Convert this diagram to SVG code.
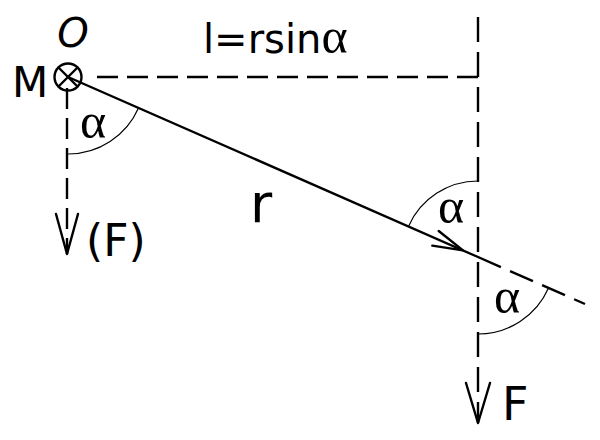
<svg xmlns="http://www.w3.org/2000/svg" width="600" height="440" viewBox="0 0 600 440">
<style>
.bg{fill:#fff}
.solid{stroke:#000;stroke-width:2.4;fill:none;stroke-linecap:round;stroke-linejoin:round}
.dash{stroke:#000;stroke-width:2.4;fill:none;stroke-dasharray:21 9}
.dashv{stroke:#000;stroke-width:2.4;fill:none;stroke-dasharray:25 10}
.arc{stroke:#000;stroke-width:1.2;fill:none}
.lbl{font-family:"DejaVu Sans",sans-serif;fill:#000}
.greek{font-family:"Liberation Serif",serif;font-size:50px;fill:#000}
</style>
<rect class="bg" x="0" y="0" width="600" height="440"/>
<g id="connectors">
  <path class="dash" d="M97 77 H478"/>
  <path class="dash" d="M67 88 V254"/>
  <path class="solid" d="M56 214 L67 254 L78 214"/>
  <path class="dashv" d="M478 17 V423"/>
  <path class="solid" d="M466 383 L478 423 L490 383"/>
  <path class="solid" d="M68 77 L478 257"/>
  <path class="dashv" d="M478 257 L585 304"/>
  <path class="solid" d="M432.3 245.6 L463 250.4 L438.7 231"/>
  <path class="arc" d="M68 154 A77 77 0 0 0 138.5 108"/>
  <path class="arc" d="M408.5 226.4 A76 76 0 0 1 478 181"/>
  <path class="arc" d="M548.5 288 A77 77 0 0 1 478 334"/>
</g>
<g id="node-O">
  <circle class="solid" cx="68" cy="77" r="13.5"/>
  <path class="solid" d="M58.5 67.5 L77.5 86.5 M77.5 67.5 L58.5 86.5"/>
  <text class="lbl" x="73" y="47" font-size="40" font-style="italic" text-anchor="middle">O</text>
  <text class="lbl" x="12" y="97" font-size="42">M</text>
</g>
<g id="label-l">
  <text class="lbl" x="203" y="53" font-size="40">l=rsin<tspan class="greek">α</tspan></text>
</g>
<g id="label-r">
  <text class="lbl" x="250" y="222" font-size="54">r</text>
</g>
<g id="label-alpha">
  <text class="greek" x="80" y="138">α</text>
  <text class="greek" x="438" y="223">α</text>
  <text class="greek" x="494" y="313">α</text>
</g>
<g id="label-F">
  <text class="lbl" x="86" y="256" font-size="44">(F)</text>
  <text class="lbl" x="502" y="420" font-size="46">F</text>
</g>
</svg>
